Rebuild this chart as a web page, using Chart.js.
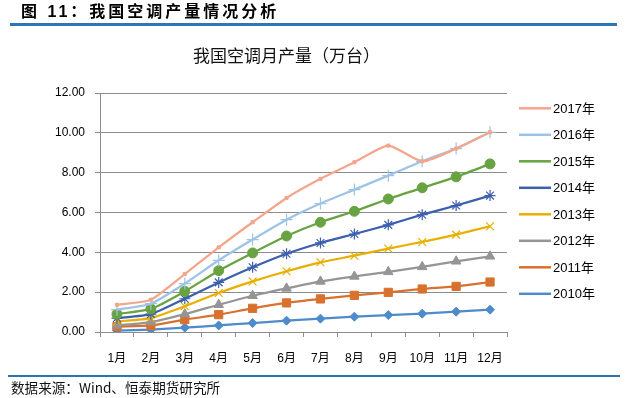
<!DOCTYPE html>
<html><head><meta charset="utf-8">
<script src="https://cdn.jsdelivr.net/npm/chart.js@4.4.1/dist/chart.umd.min.js"></script>
<style>
html,body{margin:0;padding:0;background:#fff;}
#wrap{position:relative;width:627px;height:398px;overflow:hidden;background:#fff;}
#c{position:absolute;left:0;top:0;}
.t{position:absolute;white-space:nowrap;color:#000;}
#head{left:21px;top:1px;font:bold 16px "Liberation Sans","Noto Sans CJK SC",sans-serif;letter-spacing:3px;line-height:22px;}
#hline{position:absolute;left:10px;top:23px;width:607px;height:3px;background:#2E75B6;}
#title{left:193px;top:44px;font:17px "Noto Sans CJK SC",sans-serif;line-height:22px;color:#111;}
#fline{position:absolute;left:8px;top:375px;width:612px;height:2px;background:#2E75B6;}
#src{left:11px;top:379px;font:13.6px "Noto Sans CJK SC",serif;line-height:17px;color:#111;}
</style></head>
<body>
<div id="wrap">
<canvas id="c" width="627" height="398"></canvas>
<div class="t" id="head">图 11：我国空调产量情况分析</div>
<div id="hline"></div>
<div class="t" id="title">我国空调月产量（万台）</div>
<div id="fline"></div>
<div class="t" id="src">数据来源：Wind、恒泰期货研究所</div>
</div>
<script>
const months = ["1月","2月","3月","4月","5月","6月","7月","8月","9月","10月","11月","12月"];
const yTicks = [0, 2, 4, 6, 8, 10, 12];
const seriesNames = ["2017年","2016年","2015年","2014年","2013年","2012年","2011年","2010年"];
const y2017 = [1.37, 1.62, 2.91, 4.25, 5.51, 6.73, 7.69, 8.52, 9.36, 8.57, 9.21, 10.03];
const y2016 = [1.12, 1.42, 2.43, 3.60, 4.64, 5.64, 6.45, 7.15, 7.85, 8.57, 9.21, 10.03];
const y2015 = [0.90, 1.16, 2.04, 3.08, 3.97, 4.82, 5.51, 6.06, 6.68, 7.24, 7.79, 8.44];
const y2014 = [0.70, 0.90, 1.67, 2.49, 3.25, 3.93, 4.47, 4.92, 5.38, 5.89, 6.35, 6.85];
const y2013 = [0.53, 0.70, 1.29, 1.96, 2.54, 3.05, 3.50, 3.83, 4.19, 4.52, 4.89, 5.31];
const y2012 = [0.33, 0.50, 0.90, 1.37, 1.82, 2.19, 2.54, 2.79, 3.02, 3.27, 3.55, 3.80];
const y2011 = [0.27, 0.33, 0.62, 0.87, 1.19, 1.46, 1.66, 1.84, 1.99, 2.16, 2.29, 2.51];
const y2010 = [0.07, 0.12, 0.22, 0.33, 0.45, 0.57, 0.67, 0.77, 0.85, 0.92, 1.02, 1.12];

const allValues = [y2017, y2016, y2015, y2014, y2013, y2012, y2011, y2010];
const colors = ["#F4A68C","#9DC3E6","#68A342","#3C5FAE","#E8AF00","#959595","#D8712E","#4E8BCA"];
const pStyles = ["rect","cross","circle","star","crossRot","triangle","rect","rectRot"];
const pRadius = [2.2, 6, 5, 5.5, 5.5, 5.5, 5.8, 4.5];
const pBorder = [1, 1.2, 1, 1.2, 1.2, 1, 1, 1];

const FONT = '"Liberation Sans","Noto Sans CJK SC",sans-serif';

const datasets = seriesNames.map((n, i) => ({
  label: n,
  data: allValues[i],
  borderColor: colors[i],
  backgroundColor: colors[i],
  borderWidth: 2.25,
  pointStyle: pStyles[i],
  pointRadius: pRadius[i],
  pointBorderWidth: pBorder[i],
  pointBorderColor: colors[i],
  pointBackgroundColor: colors[i],
  tension: 0.2,
  fill: false
}));

const legendPlugin = {
  id: 'sideLegend',
  afterDraw(chart) {
    const ctx = chart.ctx;
    const x0 = chart.chartArea.right + 12;
    const top = 108.3, step = 26.5;
    ctx.save();
    chart.data.datasets.forEach((ds, i) => {
      const y = top + i * step;
      ctx.strokeStyle = ds.borderColor;
      ctx.lineWidth = 2.5;
      ctx.beginPath();
      ctx.moveTo(x0, y);
      ctx.lineTo(x0 + 32, y);
      ctx.stroke();
      ctx.fillStyle = ds.backgroundColor;
      ctx.strokeStyle = ds.borderColor;
      ctx.lineWidth = 1;
      Chart.helpers.drawPoint(ctx, {pointStyle: ds.pointStyle, rotation: 0, borderWidth: 1}, x0 + 16, y);
      ctx.fillStyle = '#000';
      ctx.font = '13px ' + FONT;
      ctx.textBaseline = 'middle';
      ctx.textAlign = 'left';
      ctx.fillText(ds.label, x0 + 34, y + 1);
    });
    ctx.restore();
  }
};

new Chart(document.getElementById('c'), {
  type: 'line',
  data: { labels: months, datasets: datasets },
  options: {
    responsive: false,
    animation: false,
    devicePixelRatio: 1,
    layout: { padding: { left: 0, right: 120, top: 93, bottom: 0 } },
    plugins: { legend: { display: false }, title: { display: false }, tooltip: { enabled: false } },
    scales: {
      x: {
        type: 'category',
        offset: true,
        afterFit(s) { s.height = 66; },
        grid: { offset: true, drawOnChartArea: false, drawTicks: true, tickLength: 5, color: '#8c8c8c', lineWidth: 1 },
        border: { color: '#8c8c8c', width: 1 },
        ticks: { color: '#000', font: { size: 12, family: FONT }, padding: 14, maxRotation: 0, autoSkip: false }
      },
      y: {
        min: 0, max: 12,
        afterFit(s) { s.width = 100; },
        afterBuildTicks(s) { s.ticks = yTicks.map(v => ({ value: v })); },
        grid: { color: '#8c8c8c', lineWidth: 1, drawTicks: true, tickLength: 5 },
        border: { color: '#8c8c8c', width: 1 },
        ticks: { color: '#000', font: { size: 12, family: FONT }, padding: 10, callback: v => Number(v).toFixed(2) }
      }
    }
  },
  plugins: [legendPlugin]
});
</script>
</body></html>
